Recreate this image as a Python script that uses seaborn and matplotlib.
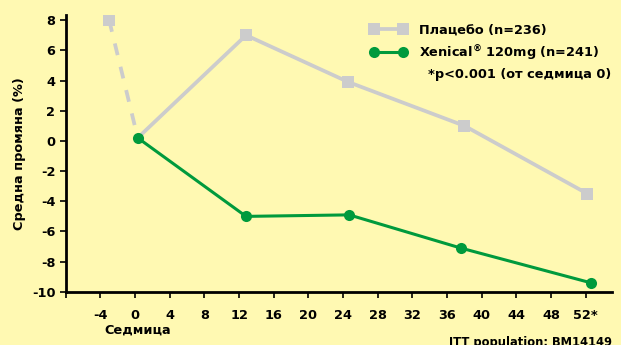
import numpy as np
import pandas as pd
import matplotlib
matplotlib.use("Agg")
import matplotlib.pyplot as plt
from matplotlib.lines import Line2D
import seaborn as sns

# values
placebo_weeks = [0.3, 12.8, 24.6, 38.0, 52.2]
placebo_vals = [0.2, 7.0, 3.9, 1.0, -3.5]
baseline_weeks = [-3.0, 0.3]
baseline_vals = [8.0, 0.2]
xenical_weeks = [0.3, 12.8, 24.7, 37.6, 52.6]
xenical_vals = [0.2, -5.0, -4.9, -7.1, -9.4]

xticks = list(range(-8, 53, 4))
xticklabels = [""] + [str(t) for t in range(-4, 49, 4)] + ["52*"]
yticks = list(range(-10, 9, 2))

bg = "#FFF9B2"
grey = "#CCCCCC"
green = "#009A3D"

sns.set_style("ticks")
plt.rcParams["font.family"] = ["DejaVu Sans"]
plt.rcParams["font.weight"] = "bold"
plt.rcParams["axes.unicode_minus"] = False
plt.rcParams["text.color"] = "black"
plt.rcParams["axes.labelcolor"] = "black"
plt.rcParams["xtick.color"] = "black"
plt.rcParams["ytick.color"] = "black"

fs = 9.3

fig, ax = plt.subplots(figsize=(6.21, 3.45), dpi=100)
fig.patch.set_facecolor(bg)
ax.set_facecolor(bg)
fig.subplots_adjust(left=0.106, right=0.985, top=0.957, bottom=0.154)

base = pd.DataFrame({"week": baseline_weeks, "val": baseline_vals})
plac = pd.DataFrame({"week": placebo_weeks, "val": placebo_vals})
xen = pd.DataFrame({"week": xenical_weeks, "val": xenical_vals})

# dashed run-in segment
sns.lineplot(data=base, x="week", y="val", ax=ax, color=grey, lw=2.7,
             linestyle=(0, (3.2, 3.2)))
ax.plot(baseline_weeks[:1], baseline_vals[:1], marker="s", color=grey,
        markersize=8, markeredgewidth=0, linestyle="none")
sns.lineplot(data=plac, x="week", y="val", ax=ax, color=grey, lw=2.7,
             marker="s", markersize=8, markeredgewidth=0,
             markevery=list(range(1, len(placebo_weeks))))
sns.lineplot(data=xen, x="week", y="val", ax=ax, color=green, lw=2.2,
             marker="o", markersize=8, markeredgewidth=0)

ax.set_xlim(-8, 55)
ax.set_ylim(-10, 8.35)
ax.set_xticks(xticks)
ax.set_xticklabels(xticklabels)
ax.set_yticks(yticks)
ax.tick_params(axis="both", labelsize=fs, width=1.2, length=4, color="black",
               labelcolor="black")
for lab in ax.get_xticklabels() + ax.get_yticklabels():
    lab.set_fontweight("bold")
ax.tick_params(axis="x", pad=8)

for s in ["top", "right"]:
    ax.spines[s].set_visible(False)
for s in ["left", "bottom"]:
    ax.spines[s].set_linewidth(2)
    ax.spines[s].set_color("black")

ax.set_xlabel("")
ax.set_ylabel("Средна промяна (%)", fontsize=fs, fontweight="bold", labelpad=4,
              color="black")

handles = [
    Line2D([], [], color=grey, lw=2.7, marker="s", markersize=8,
           markeredgewidth=0),
    Line2D([], [], color=green, lw=2.2, marker="o", markersize=8,
           markeredgewidth=0),
]
labels = ["Плацебо (n=236)", "Xenical$^{\\circledR}$ 120mg (n=241)"]
leg = ax.legend(handles, labels, loc="upper left", bbox_to_anchor=(0.54, 1.0),
                frameon=False, fontsize=fs, handlelength=2.9, handletextpad=0.9,
                borderaxespad=0.3, labelspacing=0.45, numpoints=2)
for t in leg.get_texts():
    t.set_fontweight("bold")
    t.set_color("black")

fig.text(0.985, 0.783, "*p<0.001 (от седмица 0)", ha="right", va="center",
         fontsize=fs, fontweight="bold", color="black")
fig.text(0.221, 0.043, "Седмица", ha="center", va="center",
         fontsize=fs, fontweight="bold", color="black")
fig.text(0.985, 0.008, "ITT population: BM14149", ha="right", va="center",
         fontsize=8.3, fontweight="bold", color="black")

fig.savefig("out.png", dpi=100, facecolor=bg)
